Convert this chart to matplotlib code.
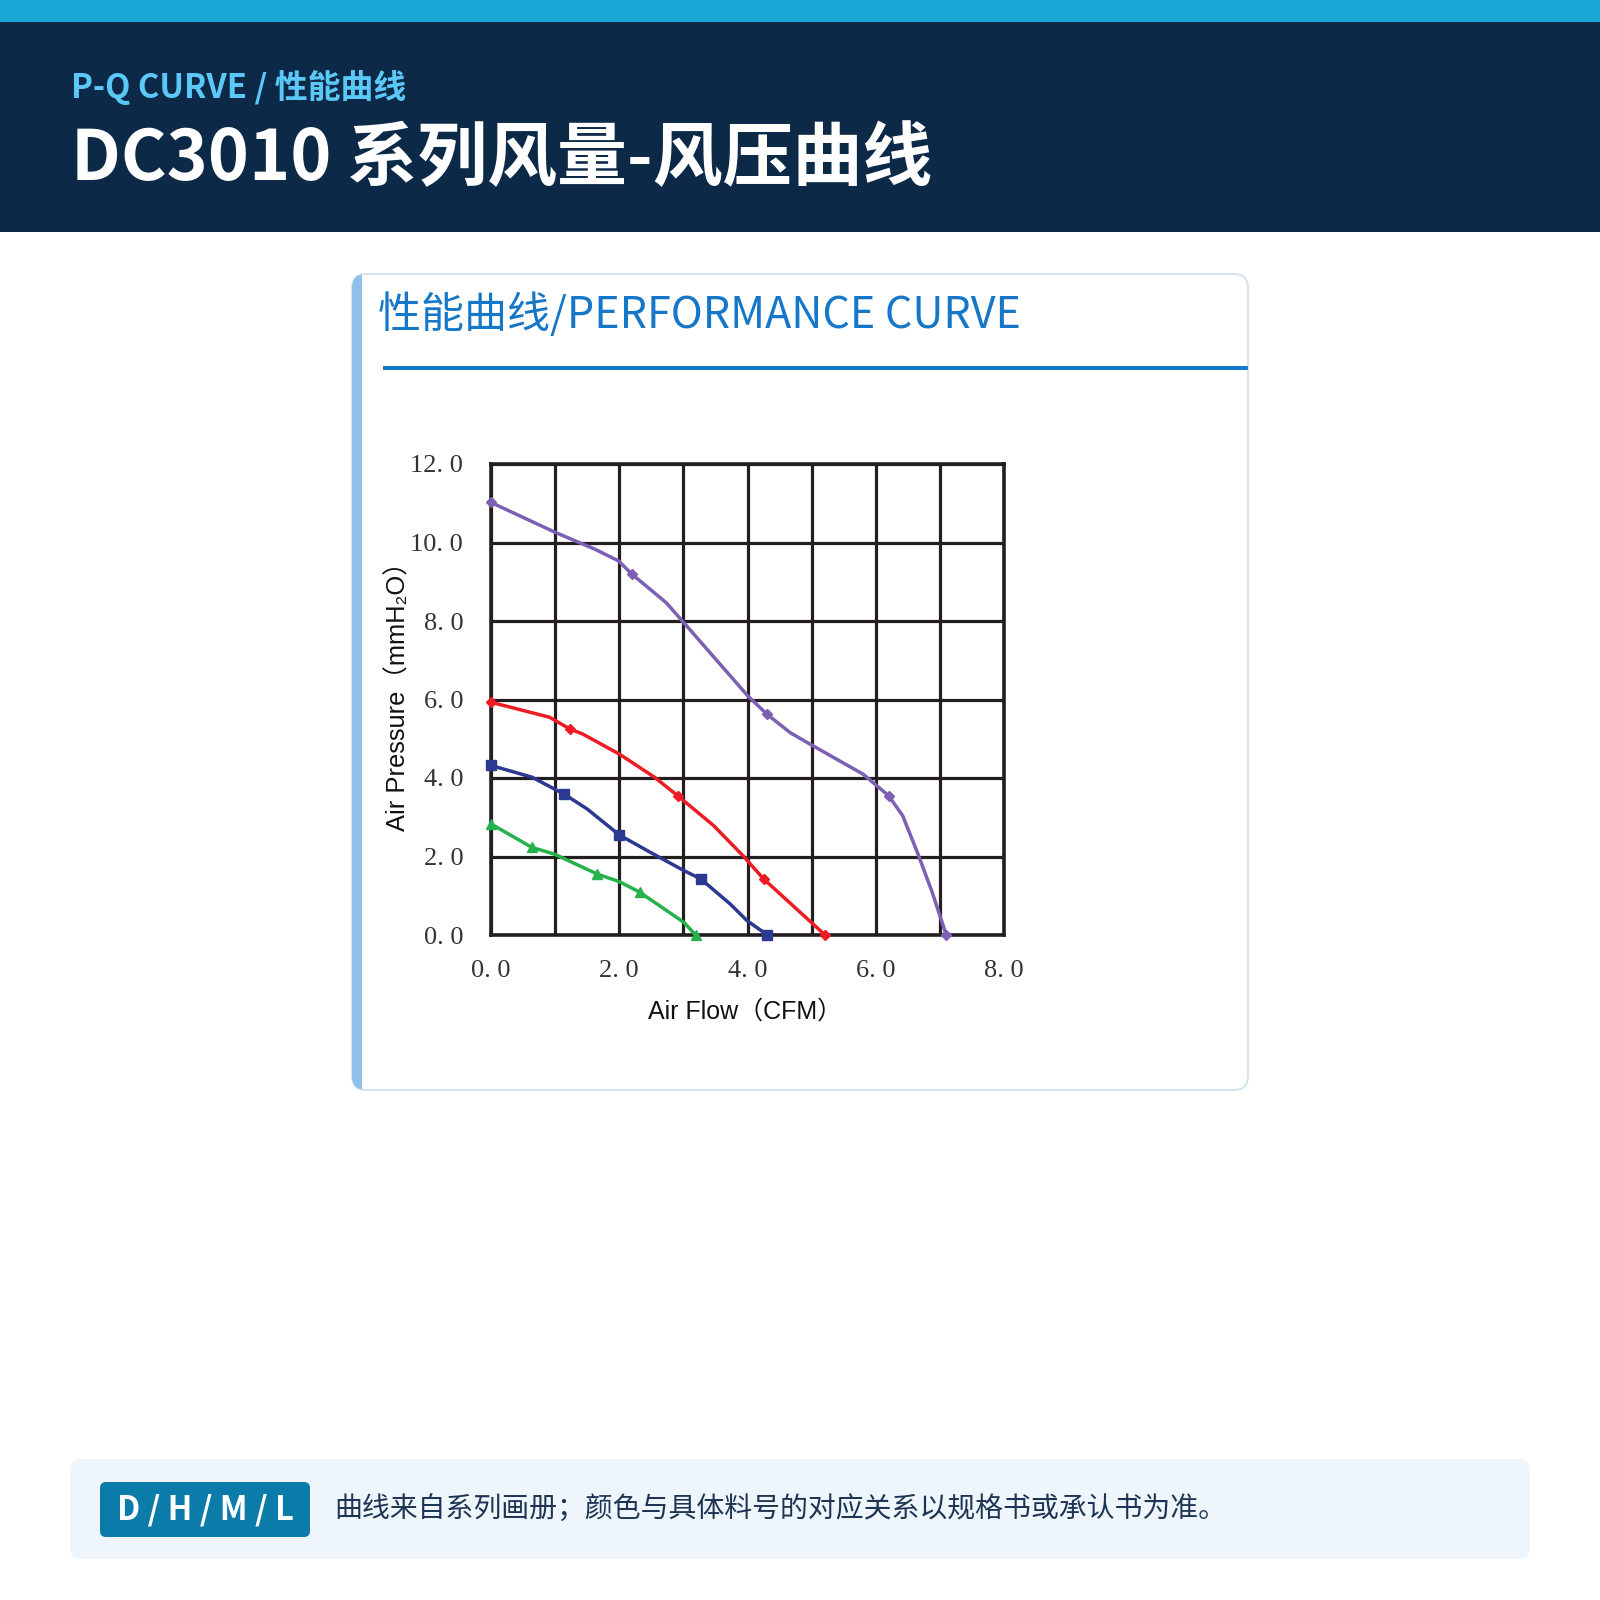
import matplotlib
matplotlib.use("Agg")
import matplotlib.pyplot as plt
from matplotlib.patches import Rectangle, FancyBboxPatch

# P-Q curves (CFM, mmH2O)
purple_x = [0, 1.0, 1.62, 1.99, 2.2, 2.73, 3.0, 4.0, 4.3, 4.67, 5.0, 5.8, 6.2, 6.42, 6.65, 6.88, 7.1]
purple_y = [11.02, 10.26, 9.83, 9.53, 9.19, 8.47, 7.97, 6.1, 5.63, 5.15, 4.84, 4.1, 3.55, 3.04, 2.1, 1.09, 0.0]
purple_marks = [0, 4, 8, 12, 16]

red_x = [0, 0.91, 1.23, 1.43, 2.0, 2.55, 2.91, 3.47, 3.93, 4.25, 5.21]
red_y = [5.93, 5.55, 5.25, 5.12, 4.61, 4.02, 3.55, 2.79, 2.02, 1.43, 0.0]
red_marks = [0, 2, 6, 9, 10]

blue_x = [0, 0.64, 1.14, 1.5, 2.0, 2.48, 3.01, 3.27, 3.73, 3.99, 4.31]
blue_y = [4.32, 4.02, 3.59, 3.21, 2.55, 2.11, 1.64, 1.43, 0.79, 0.37, 0.0]
blue_marks = [0, 2, 4, 7, 10]

green_x = [0, 0.64, 0.99, 1.66, 2.0, 2.32, 3.01, 3.19]
green_y = [2.83, 2.23, 2.06, 1.55, 1.36, 1.09, 0.32, 0.0]
green_marks = [0, 1, 3, 5, 7]

x_ticks = [0, 2, 4, 6, 8]
x_labels = ["0. 0", "2. 0", "4. 0", "6. 0", "8. 0"]
y_ticks = [0, 2, 4, 6, 8, 10, 12]
y_labels = ["0. 0", "2. 0", "4. 0", "6. 0", "8. 0", "10. 0", "12. 0"]

kicker = "P-Q CURVE / 性能曲线"
title = "DC3010 系列风量-风压曲线"
card_title = "性能曲线/PERFORMANCE CURVE"
badge = "D / H / M / L"
note = "曲线来自系列画册；颜色与具体料号的对应关系以规格书或承认书为准。"

CJK = ["Noto Sans CJK SC", "DejaVu Sans"]
SANS = ["Liberation Sans", "Noto Sans CJK SC", "DejaVu Sans"]
SERIF = ["Liberation Serif", "DejaVu Serif"]

fig = plt.figure(figsize=(16, 16), dpi=100)
fig.patch.set_facecolor("white")

# page background in pixel coords (y down)
bg = fig.add_axes([0, 0, 1, 1])
bg.set_xlim(0, 1600); bg.set_ylim(1600, 0); bg.axis("off")

bg.add_patch(Rectangle((0, 0), 1600, 22, color="#19A8D6", lw=0))
bg.add_patch(Rectangle((0, 22), 1600, 210, color="#0C2947", lw=0))
bg.text(71, 87, kicker, color="#5BC8F7", fontsize=23.7, fontweight="bold",
        family=CJK, va="center", ha="left")
bg.text(71, 160, title, color="white", fontsize=50.3, fontweight="bold",
        family=CJK, va="center", ha="left")

# card
card = FancyBboxPatch((352, 274), 896, 816, boxstyle="round,pad=0,rounding_size=14",
                      fc="white", ec="#D6E4F0", lw=1.5)
bg.add_patch(card)
accent = Rectangle((352, 274), 10, 816, color="#8FC0EA", lw=0)
bg.add_patch(accent)
accent.set_clip_path(card)
bg.text(378, 316, card_title, color="#1677C9", fontsize=31, family=CJK,
        va="center", ha="left")
bg.add_patch(Rectangle((383, 366), 865, 3.5, color="#1677C9", lw=0))

# bottom note
bg.add_patch(FancyBboxPatch((70, 1459), 1460, 100, boxstyle="round,pad=0,rounding_size=12",
                            fc="#EEF5FB", ec="none"))
bg.add_patch(FancyBboxPatch((100, 1482), 210, 55, boxstyle="round,pad=0,rounding_size=6",
                            fc="#0B7CA9", ec="none"))
bg.text(205, 1510, badge, color="white", fontsize=23.5, fontweight="bold",
        family=CJK, va="center", ha="center")
bg.text(334, 1510, note, color="#1D3553", fontsize=20.1, family=CJK,
        va="center", ha="left")

# chart
ax = fig.add_axes([491 / 1600, 1 - 935 / 1600, (1004 - 491) / 1600, (935 - 464) / 1600])
ax.set_xlim(0, 8); ax.set_ylim(0, 12)
ax.set_xticks(x_ticks)
ax.set_xticklabels(x_labels, family=SERIF, fontsize=19, color="#333333")
ax.set_xticks([1, 3, 5, 7], minor=True)
ax.set_yticks(y_ticks)
ax.set_yticklabels(y_labels, family=SERIF, fontsize=19, color="#333333")
ax.tick_params(which="both", length=0)
ax.tick_params(axis="x", pad=18)
ax.tick_params(axis="y", pad=20)
ax.grid(which="both", color="#231F20", lw=2.3)
ax.set_axisbelow(True)
for s in ax.spines.values():
    s.set_linewidth(2.6); s.set_color("#231F20")

series = [
    (purple_x, purple_y, purple_marks, "#7B60B4", "D", 5.5),
    (red_x, red_y, red_marks, "#ED1C24", "D", 5.5),
    (blue_x, blue_y, blue_marks, "#2B3990", "s", 7),
    (green_x, green_y, green_marks, "#27B14A", "^", 7.5),
]
for xs, ys, marks, c, m, ms in series:
    ax.plot(xs, ys, color=c, lw=2.5, marker=m, ms=ms, markevery=marks,
            clip_on=False, zorder=3)

bg.text(398, 690, "Air Pressure（mmH₂O）", rotation=90, family=SANS, fontsize=18.4,
        color="#111111", va="center", ha="center")
bg.text(745, 1012, "Air Flow（CFM）", family=SANS, fontsize=18,
        color="#111111", va="center", ha="center")

fig.savefig("out.png", dpi=100)
